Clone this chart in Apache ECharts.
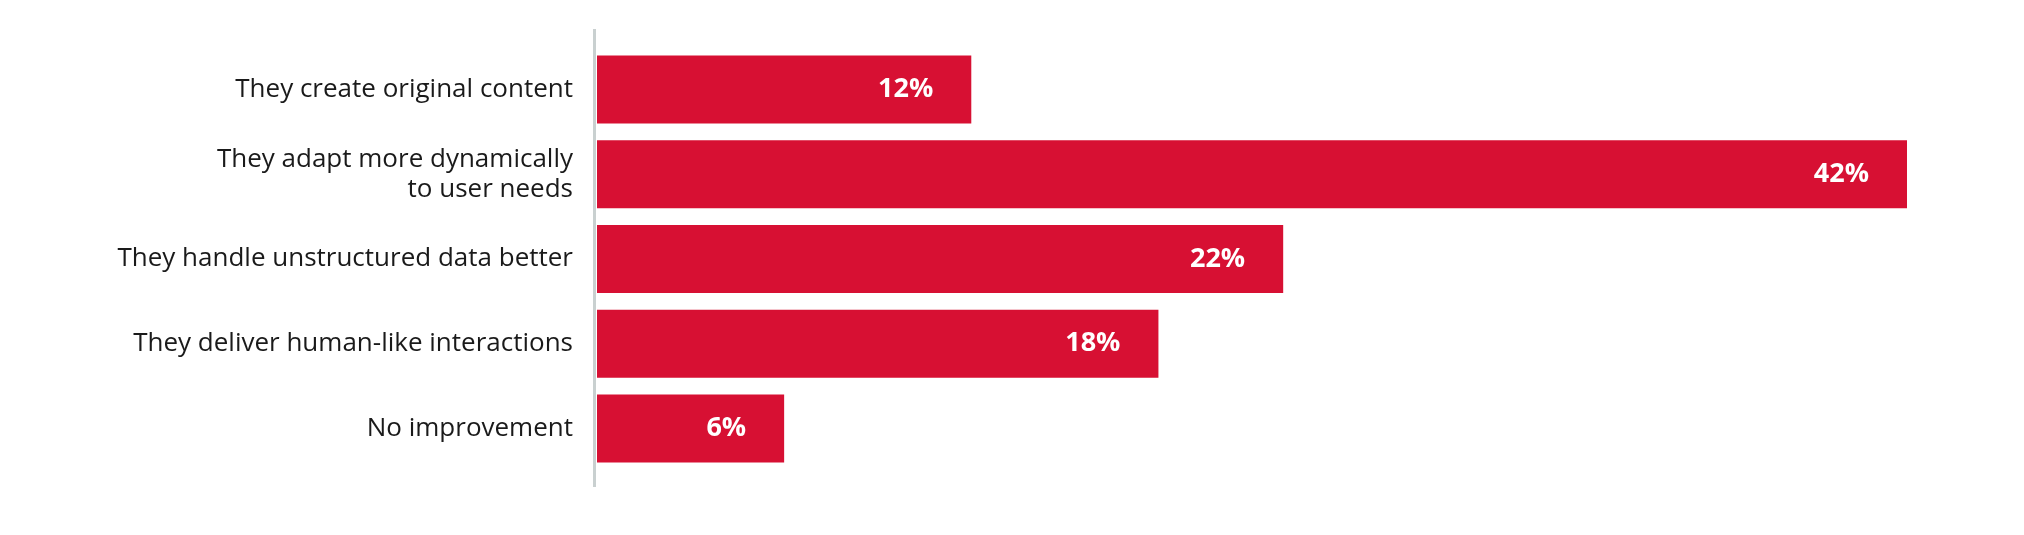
<!DOCTYPE html>
<html>
<head>
<meta charset="utf-8">
<script src="https://cdn.jsdelivr.net/npm/echarts@6/dist/echarts.min.js"></script>
<style>
  html, body { margin: 0; padding: 0; background: #fff; }
  #chart { width: 2024px; height: 535px; }
</style>
</head>
<body>
<div id="chart"></div>
<script>
var categories = [
    'They create original content',
    'They adapt more dynamically\nto user needs',
    'They handle unstructured data better',
    'They deliver human-like interactions',
    'No improvement'
];
var values = [12, 42, 22, 18, 6];

var chart = echarts.init(document.getElementById('chart'));

var option = {
    animation: false,
    grid: {
        left: 597,
        right: 117,
        top: 47,
        bottom: 64
    },
    xAxis: {
        type: 'value',
        min: 0,
        max: 42,
        show: false
    },
    yAxis: {
        type: 'category',
        inverse: true,
        data: categories,
        axisLine: { show: false },
        axisTick: { show: false },
        axisLabel: {
            margin: 24,
            color: '#1a1a1a',
            fontFamily: 'Open Sans',
            fontSize: 26,
            lineHeight: 30,
            align: 'right'
        }
    },
    // axis line runs past the bar band, as in the source
    graphic: [{
        type: 'line',
        shape: { x1: 594.5, y1: 29, x2: 594.5, y2: 487 },
        style: { stroke: '#c9d0d0', lineWidth: 3 },
        z: 10
    }],
    series: [{
        type: 'bar',
        data: values,
        barWidth: 68,
        itemStyle: { color: '#d71033' },
        label: {
            show: true,
            position: 'insideRight',
            distance: 38,
            color: '#fff',
            fontFamily: 'Open Sans',
            fontWeight: 'bold',
            fontSize: 27,
            formatter: '{c}%'
        }
    }]
};

chart.setOption(option);
</script>
</body>
</html>
